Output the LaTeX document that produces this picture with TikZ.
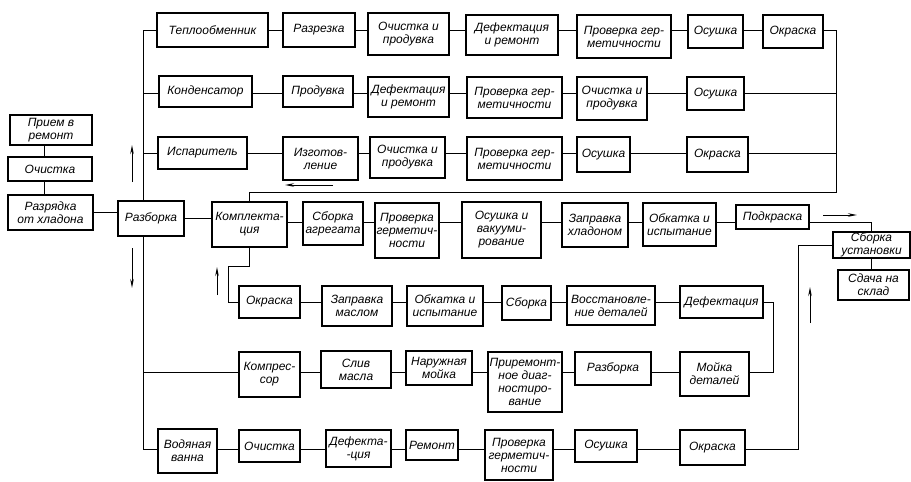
\documentclass[tikz,border=0pt]{standalone}
\usepackage{fontspec}
\setmainfont{Liberation Sans}
\usetikzlibrary{arrows.meta}
% \blockat{name}{x1}{y1}{x2}{y2}{text}: a box given by its corners
\newcommand\blockat[6]{%
  \node[blk, minimum width={(#4-#2)*1pt}, minimum height={(#5-#3)*1pt}]
    (#1) at ({(#2+#4)/2},{(#3+#5)/2}) {#6};}
\begin{document}
\begin{tikzpicture}[x=1pt,y=-1pt,
  blk/.style={draw, line width=1.1pt, fill=white, align=center, inner sep=0.5pt,
    font=\fontsize{12}{13}\selectfont\itshape},
  wire/.style={line width=0.9pt},
  flow/.style={line width=0.9pt, -{Stealth[length=9pt,width=3.5pt]}}]
\useasboundingbox (0,0) rectangle (911,482);

% row levels and routing columns
\coordinate (rA) at (0,30);
\coordinate (rB) at (0,93);
\coordinate (rC) at (0,153);
\coordinate (rD) at (0,222);
\coordinate (rE) at (0,302);
\coordinate (rF) at (0,372);
\coordinate (rG) at (0,449);
\coordinate (retY) at (0,192);
\coordinate (busx) at (143,0);
\coordinate (retx) at (836,0);
\coordinate (cD) at (773,0);
\coordinate (cR) at (798,0);
\coordinate (vx) at (44,0);
\coordinate (jE) at (228,266);

% heat exchanger line
\blockat{a1}{157}{13}{268}{47}{Теплообменник}
\blockat{a2}{283}{13}{355}{47}{Разрезка}
\blockat{a3}{368}{13}{449}{55}{Очистка и\\продувка}
\blockat{a4}{466}{15}{558}{55}{Дефектация\\и ремонт}
\blockat{a5}{577}{15}{671}{58}{Проверка гер-\\метичности}
\blockat{a6}{688}{15}{743}{48}{Осушка}
\blockat{a7}{763}{15}{823}{48}{Окраска}

% condenser line
\blockat{b1}{159}{76}{252}{107}{Конденсатор}
\blockat{b2}{283}{76}{353}{107}{Продувка}
\blockat{b3}{368}{77}{449}{117}{Дефектация\\и ремонт}
\blockat{b4}{467}{77}{562}{118}{Проверка гер-\\метичности}
\blockat{b5}{577}{77}{647}{120}{Очистка и\\продувка}
\blockat{b6}{687}{77}{744}{110}{Осушка}

% evaporator line
\blockat{c1}{158}{137}{247}{169}{Испаритель}
\blockat{c2}{283}{137}{358}{180}{Изготов-\\ление}
\blockat{c3}{370}{137}{445}{178}{Очистка и\\продувка}
\blockat{c4}{467}{137}{562}{180}{Проверка гер-\\метичности}
\blockat{c5}{577}{137}{630}{172}{Осушка}
\blockat{c6}{687}{137}{748}{172}{Окраска}

% intake
\blockat{p1}{10}{115}{92}{145}{Прием в\\ремонт}
\blockat{p2}{8}{157}{92}{181}{Очистка}
\blockat{p3}{8}{195}{93}{230}{Разрядка\\от хладона}
\blockat{p4}{118}{201}{184}{236}{Разборка}

% assembly line
\blockat{d1}{212}{202}{287}{247}{Комплекта-\\ция}
\blockat{d2}{303}{202}{363}{245}{Сборка\\агрегата}
\blockat{d3}{375}{203}{439}{258}{Проверка\\герметич-\\ности}
\blockat{d4}{462}{202}{541}{258}{Осушка и\\вакууми-\\рование}
\blockat{d5}{562}{203}{628}{247}{Заправка\\хладоном}
\blockat{d6}{643}{203}{716}{246}{Обкатка и\\испытание}
\blockat{d7}{736}{205}{809}{229}{Подкраска}

% final assembly
\blockat{s1}{833}{232}{910}{258}{Сборка\\установки}
\blockat{s2}{838}{270}{909}{300}{Сдача на\\склад}

% compressor assembly
\blockat{e1}{239}{286}{300}{318}{Окраска}
\blockat{e2}{322}{286}{392}{326}{Заправка\\маслом}
\blockat{e3}{407}{286}{483}{326}{Обкатка и\\испытание}
\blockat{e4}{502}{286}{551}{320}{Сборка}
\blockat{e5}{567}{286}{655}{325}{Восстановле-\\ние деталей}
\blockat{e6}{680}{286}{763}{318}{Дефектация}

% compressor disassembly
\blockat{f1}{239}{352}{300}{397}{Компрес-\\сор}
\blockat{f2}{321}{351}{391}{388}{Слив\\масла}
\blockat{f3}{406}{351}{472}{385}{Наружная\\мойка}
\blockat{f4}{488}{352}{562}{412}{Приремонт-\\ное диаг-\\ностиро-\\вание}
\blockat{f5}{575}{352}{651}{385}{Разборка}
\blockat{f6}{680}{352}{749}{396}{Мойка\\деталей}

% water bath line
\blockat{g1}{158}{429}{217}{473}{Водяная\\ванна}
\blockat{g2}{239}{430}{300}{462}{Очистка}
\blockat{g3}{326}{430}{391}{467}{Дефекта-\\-ция}
\blockat{g4}{406}{430}{458}{460}{Ремонт}
\blockat{g5}{485}{430}{553}{480}{Проверка\\герметич-\\ности}
\blockat{g6}{575}{430}{637}{462}{Осушка}
\blockat{g7}{680}{430}{745}{465}{Окраска}

% chains along each row
\foreach \a/\b in {a1/a2,a2/a3,a3/a4,a4/a5,a5/a6,a6/a7}
  \draw[wire] (\a.east|-rA) -- (\b.west|-rA);
\foreach \a/\b in {b1/b2,b2/b3,b3/b4,b4/b5,b5/b6}
  \draw[wire] (\a.east|-rB) -- (\b.west|-rB);
\foreach \a/\b in {c1/c2,c2/c3,c3/c4,c4/c5,c5/c6}
  \draw[wire] (\a.east|-rC) -- (\b.west|-rC);
\foreach \a/\b in {d1/d2,d2/d3,d3/d4,d4/d5,d5/d6,d6/d7}
  \draw[wire] (\a.east|-rD) -- (\b.west|-rD);
\foreach \a/\b in {e1/e2,e2/e3,e3/e4,e4/e5,e5/e6}
  \draw[wire] (\a.east|-rE) -- (\b.west|-rE);
\foreach \a/\b in {f1/f2,f2/f3,f3/f4,f4/f5,f5/f6}
  \draw[wire] (\a.east|-rF) -- (\b.west|-rF);
\foreach \a/\b in {g1/g2,g2/g3,g3/g4,g4/g5,g5/g6,g6/g7}
  \draw[wire] (\a.east|-rG) -- (\b.west|-rG);

% intake column
\draw[wire] (vx|-p1.south) -- (vx|-p2.north);
\draw[wire] (vx|-p2.south) -- (vx|-p3.north);
\draw[wire] (p3.east) -- (p3.east-|p4.west);
\draw[wire] (p4.east) -- (p4.east-|d1.west);

% distribution bus from disassembly
\draw[wire] (a1.west|-rA) -- (busx|-rA) -- (busx|-p4.north);
\draw[wire] (busx|-p4.south) -- (busx|-rG) -- (g1.west|-rG);
\draw[wire] (b1.west|-rB) -- (busx|-rB);
\draw[wire] (c1.west|-rC) -- (busx|-rC);
\draw[wire] (f1.west|-rF) -- (busx|-rF);

% return of the heat exchangers to completion
\draw[wire] (a7.east|-rA) -- (retx|-rA) -- (retx|-retY) -- (d1.north|-retY) -- (d1.north);
\draw[wire] (b6.east|-rB) -- (retx|-rB);
\draw[wire] (c6.east|-rC) -- (retx|-rC);

% compressor loop
\draw[wire] (d1.south) |- (jE) |- (e1.west|-rE);
\draw[wire] (e6.east|-rE) -| (cD|-rF) -- (f6.east|-rF);

% final assembly feeds
\draw[wire] (d7.east|-rD) -| (s1.north);
\draw[wire] (s1.south) -- (s1.south|-s2.north);
\draw[wire] (g7.east|-rG) -- (cR|-rG) -- (cR|-s1.west) -- (s1.west);

% flow direction marks
\coordinate (u1a) at (132,182); \coordinate (u1b) at (132,145);
\coordinate (u2a) at (132,248); \coordinate (u2b) at (132,288);
\coordinate (u3a) at (217,295); \coordinate (u3b) at (217,267);
\coordinate (u4a) at (810,323); \coordinate (u4b) at (810,287);
\coordinate (u5a) at (333,185); \coordinate (u5b) at (285,185);
\coordinate (u6a) at (823,215); \coordinate (u6b) at (857,215);
\foreach \i in {1,...,6} \draw[flow] (u\i a) -- (u\i b);
\end{tikzpicture}
\end{document}
